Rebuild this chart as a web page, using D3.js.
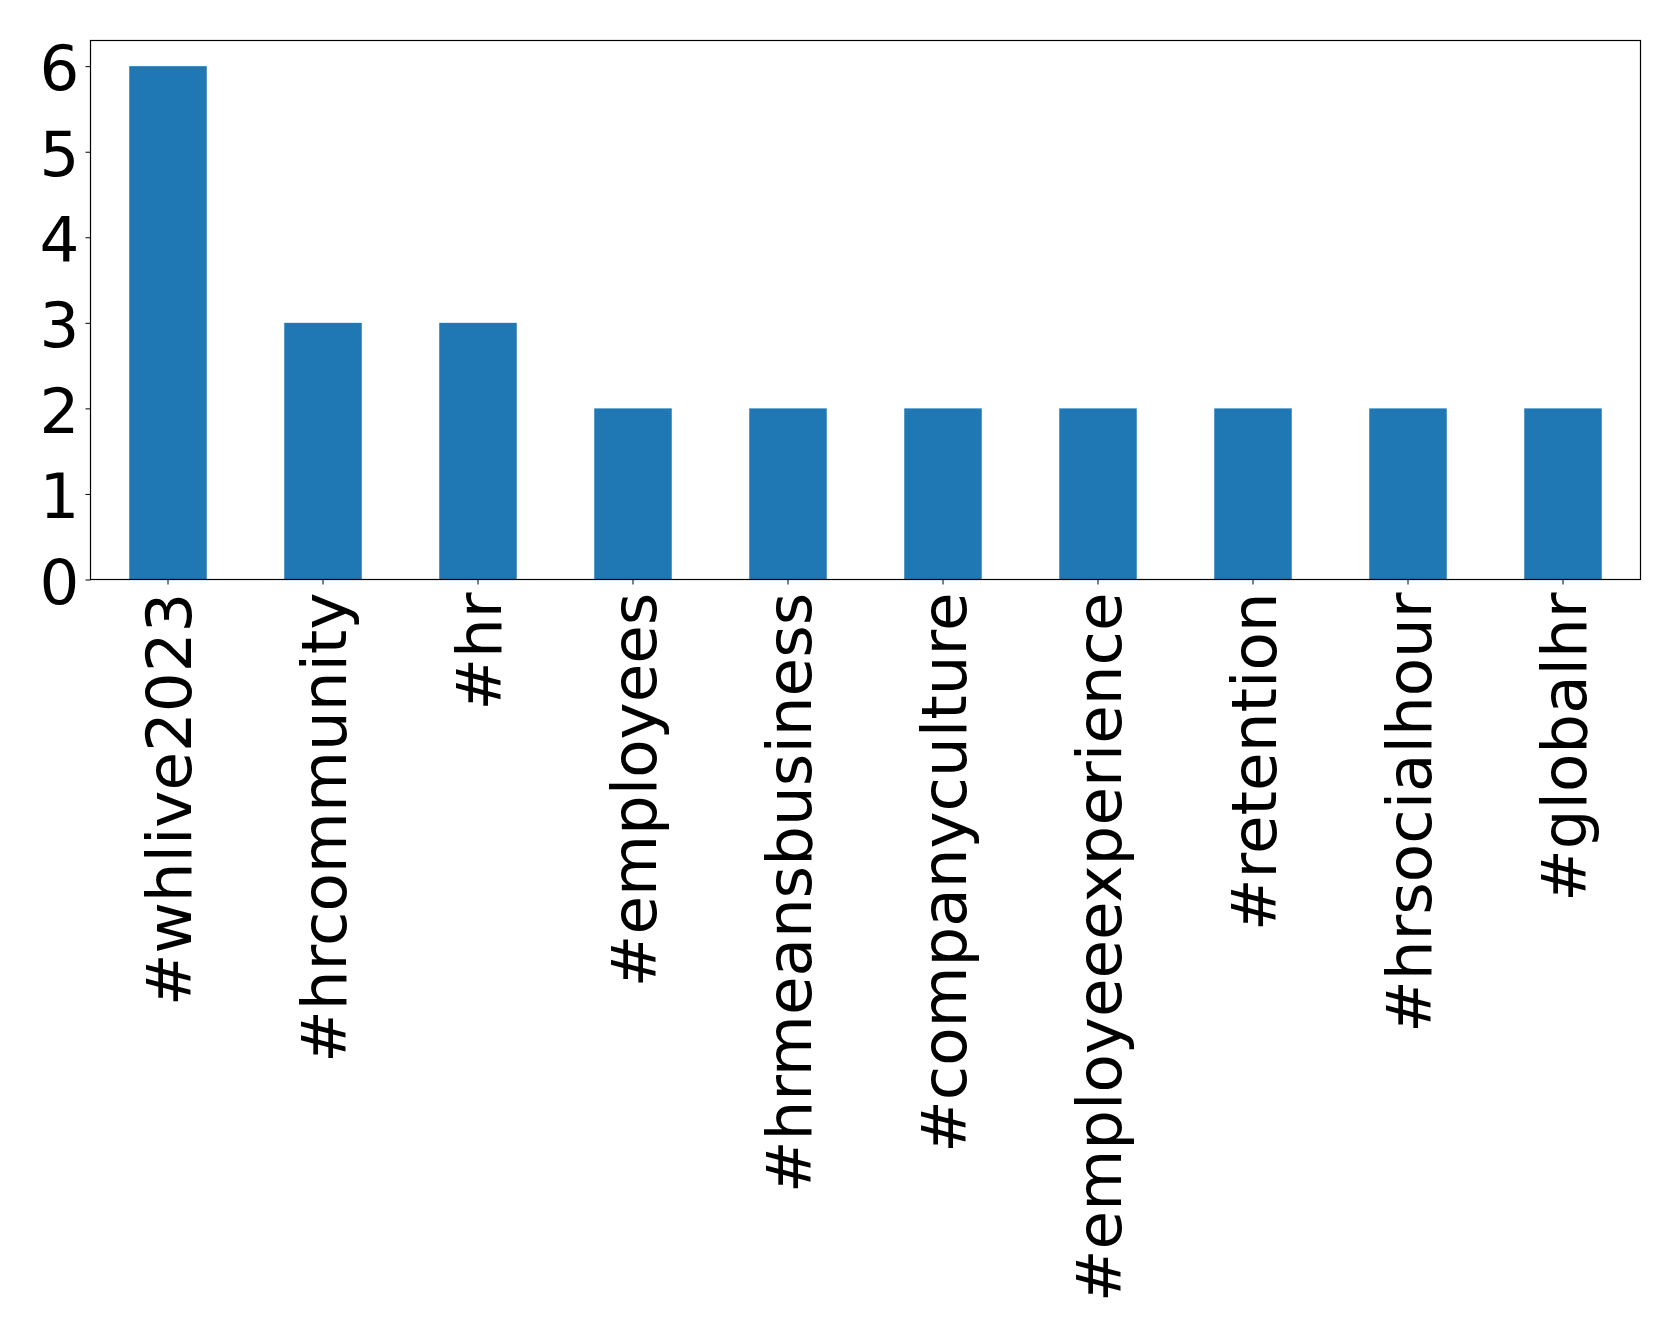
<!DOCTYPE html>
<html><head><meta charset="utf-8">
<script src="https://cdn.jsdelivr.net/npm/d3@7"></script>
<style>body{margin:0;background:#fff;} text{font-family:"DejaVu Sans";}</style>
</head><body>
<svg id="c" width="1679" height="1336"></svg>
<script>
const categories = ["#whlive2023","#hrcommunity","#hr","#employees","#hrmeansbusiness","#companyculture","#employeeexperience","#retention","#hrsocialhour","#globalhr"];
const values = [6,3,3,2,2,2,2,2,2,2];
const yTicks = [0,1,2,3,4,5,6];

const svg = d3.select("#c");
const L = 90.5, R = 1640.5, T = 40.5, B = 579.5;
const x = d3.scaleBand().domain(categories).range([L, R]).paddingInner(0.5).paddingOuter(0.25);
const y = d3.scaleLinear().domain([0, 6.3]).range([B, T]);

svg.append("g").selectAll("rect").data(values).join("rect")
  .attr("x", (d,i)=>x(categories[i]))
  .attr("width", x.bandwidth())
  .attr("y", d=>y(d))
  .attr("height", d=>y(0)-y(d))
  .attr("fill", "#1f77b4");

const fs = 62.7;
const yAxis = svg.append("g").attr("transform", `translate(${L},0)`)
  .call(d3.axisLeft(y).tickValues(yTicks).tickFormat(d3.format("d")).tickSize(5).tickPadding(6));
yAxis.select(".domain").remove();
yAxis.selectAll("text").attr("font-size", fs).attr("fill","#000").attr("font-family","DejaVu Sans").attr("dy","0.38em");
yAxis.selectAll("line").attr("stroke","#000").attr("stroke-width",1);

const xAxis = svg.append("g").attr("transform", `translate(0,${B})`)
  .call(d3.axisBottom(x).tickSize(5).tickPadding(10));
xAxis.select(".domain").remove();
xAxis.selectAll("line").attr("stroke","#000").attr("stroke-width",1);
xAxis.selectAll("text").attr("font-size", fs).attr("fill","#000").attr("font-family","DejaVu Sans")
  .attr("text-anchor","end")
  .attr("transform","rotate(-90)")
  .attr("x", -13).attr("y", 0).attr("dy","0.36em");

svg.append("rect").attr("x",L).attr("y",T).attr("width",R-L).attr("height",B-T)
  .attr("fill","none").attr("stroke","#000").attr("stroke-width",1.2);
</script>
</body></html>
